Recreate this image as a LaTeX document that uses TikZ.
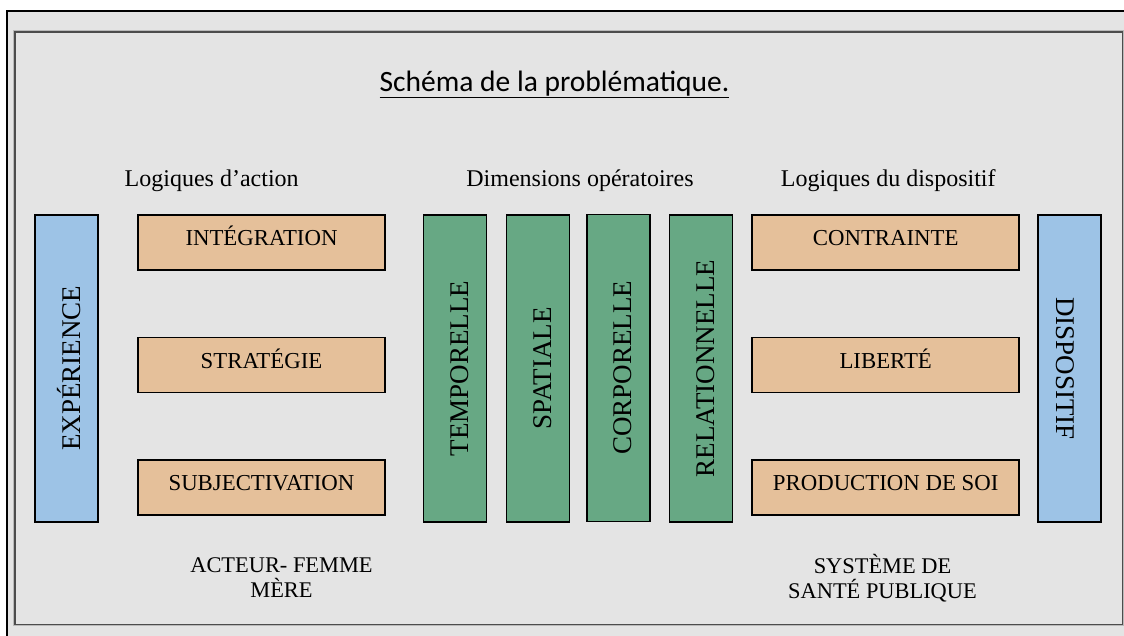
\documentclass[tikz,border=0pt]{standalone}
\usepackage{fontspec}
\setmainfont{Liberation Serif}
\newfontfamily\titrefont{Carlito}
\usetikzlibrary{positioning}

\definecolor{fondgris}{HTML}{E4E4E4}
\definecolor{bleupole}{HTML}{9DC3E6}
\definecolor{orangelog}{HTML}{E5C09A}
\definecolor{vertdim}{HTML}{67A884}

\tikzset{
  cadre/.style={draw=black, line width=1.6pt, inner sep=0pt},
  logique/.style={cadre, fill=orangelog, minimum height=55pt,
    text height=12pt, text depth=5.4pt, font=\fontsize{22.8}{24}\selectfont},
  colonne/.style={cadre, minimum width=307pt, minimum height=63pt,
    text height=27pt, text depth=0pt, font=\fontsize{27}{30}\selectfont},
  pole/.style={colonne, fill=bleupole},
  dimension/.style={colonne, fill=vertdim},
  entete/.style={anchor=base, font=\fontsize{24}{26}\selectfont},
  acteur/.style={align=center, font=\fontsize{22.4}{25}\selectfont}
}

\begin{document}
\begin{tikzpicture}[x=1pt,y=-1pt]
        \useasboundingbox (0,0) rectangle (1124,635);
        \fill[white] (0,0) rectangle (1124,635);
        \fill[fondgris] (7,11) rectangle (1126,637);
        \draw[line width=2.2pt] (7,637) -- (7,11) -- (1126,11);
        \draw[gray!55, line width=0.8pt] (13.6,30.6) rectangle (1123.4,625.4);
        \draw[black!70, line width=1.3pt] (15,32) rectangle (1122.5,624.5);

	% titre et en-tetes
	\node (titre) [anchor=base, font=\titrefont\fontsize{29.5}{32}\selectfont]
	  at (554.5,91.5) {\underline{Schéma de la problématique.}};
	\node (hautgauche) [entete] at (211.7,186) {Logiques d’action};
	\node (hautmilieu) [entete] at (580,186) {Dimensions opératoires};
	\node (hautdroite) [entete] at (888.3,186) {Logiques du dispositif};

	% poles
	\node (experience) [pole, rotate=90] at (66.7,368.3) {EXPÉRIENCE};
	\node (dispositif) [pole, rotate=-90] at (1069.7,368.3) {DISPOSITIF};

	% logiques d'action
	\node (integration) [logique, minimum width=247pt] at (261.5,242.5) {INTÉGRATION};
	\node (strategie) [logique, minimum width=247pt] at (261.5,365) {STRATÉGIE};
	\node (subjectivation) [logique, minimum width=247pt] at (261.5,487.5) {SUBJECTIVATION};

	% dimensions operatoires
	\node (temporelle) [dimension, rotate=90] at (455,368.3) {TEMPORELLE};
	\node (spatiale) [dimension, rotate=90] at (537.8,368.3) {SPATIALE};
	\node (corporelle) [dimension, rotate=90] at (618.3,367.8) {CORPORELLE};
	\node (relationnelle) [dimension, rotate=90] at (701,368.3) {RELATIONNELLE};

	% logiques du dispositif
	\node (contrainte) [logique, minimum width=267pt] at (885.7,242.5) {CONTRAINTE};
	\node (liberte) [logique, minimum width=267pt] at (885.7,365) {LIBERTÉ};
	\node (production) [logique, minimum width=267pt] at (885.7,487.5) {PRODUCTION DE SOI};

	% acteurs
	\node (femme) [acteur] at (281.5,578) {ACTEUR- FEMME\\MÈRE};
	\node (systeme) [acteur] at (882.5,578) {SYSTÈME DE\\SANTÉ PUBLIQUE};
\end{tikzpicture}
\end{document}
